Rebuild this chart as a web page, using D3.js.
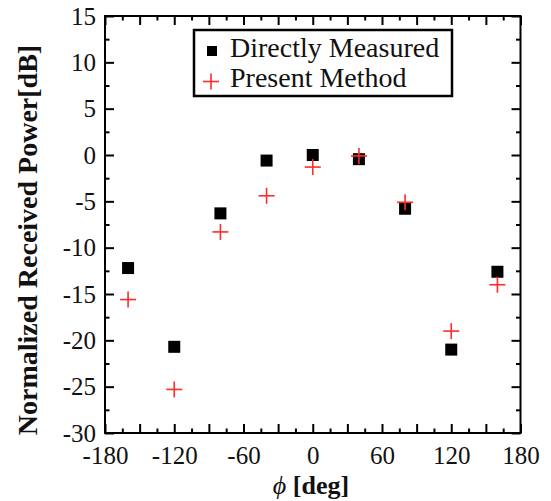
<!DOCTYPE html>
<html><head><meta charset="utf-8">
<script src="https://cdn.jsdelivr.net/npm/d3@7"></script>
<style>
html,body{margin:0;padding:0;background:#fff;}
svg{display:block;}
svg text{fill:#111;}
</style></head>
<body>
<script>
const angles = [-160, -120, -80, -40, 0, 40, 80, 120, 160];
const measured = [-12.2, -20.7, -6.3, -0.6, 0.0, -0.45, -5.8, -21.0, -12.6];
const presentMethod = [-15.6, -25.3, -8.3, -4.4, -1.3, -0.1, -5.1, -19.0, -14.0];
const xTicks = [-180, -120, -60, 0, 60, 120, 180];
const yTicks = [-30, -25, -20, -15, -10, -5, 0, 5, 10, 15];
const legendLabels = ["Directly Measured", "Present Method"];

const W = 551, H = 501;
const L = 105, R = 520.5, T = 16, B = 433;
const FONT = '"Liberation Serif","Times New Roman",Times,serif';
const svg = d3.select("body").append("svg").attr("width", W).attr("height", H);

const x = d3.scaleLinear().domain([-180, 180]).range([L, R]);
const y = d3.scaleLinear().domain([-30, 15]).range([B, T]);

const xAll = d3.range(-180, 181, 15);
const yAll = d3.range(-30, 15.01, 2.5);
const isXMajor = v => Math.abs(v % 30) < 1e-6;
const isYMajor = v => Math.abs(v % 5) < 1e-6;

function styleAxis(g, majorFn, horizontal, sign) {
  g.attr("font-family", FONT);
  g.select(".domain").remove();
  g.selectAll(".tick line")
    .attr("stroke", "#000").attr("stroke-width", 2)
    .each(function(d) {
      const len = majorFn(d) ? 9 : 4.5;
      if (horizontal) d3.select(this).attr("y2", sign * len);
      else d3.select(this).attr("x2", sign * len);
    });
}

// bottom
const gb = svg.append("g").attr("transform", `translate(0,${B})`)
  .call(d3.axisBottom(x).tickValues(xAll).tickSizeOuter(0)
    .tickFormat(d => xTicks.includes(d) ? d : ""));
styleAxis(gb, isXMajor, true, -1);
gb.selectAll(".tick text").attr("y", 13).attr("dy", "0.71em")
  .style("font-size", "25px").attr("fill", "#111");

// top
const gt = svg.append("g").attr("transform", `translate(0,${T})`)
  .call(d3.axisTop(x).tickValues(xAll).tickSizeOuter(0).tickFormat(""));
styleAxis(gt, isXMajor, true, 1);

// left
const gl = svg.append("g").attr("transform", `translate(${L},0)`)
  .call(d3.axisLeft(y).tickValues(yAll).tickSizeOuter(0)
    .tickFormat(d => yTicks.includes(d) ? d : ""));
styleAxis(gl, isYMajor, false, 1);
gl.selectAll(".tick text").attr("x", -9).attr("dy", "0.32em")
  .style("font-size", "25px").attr("fill", "#111");

// right
const gr = svg.append("g").attr("transform", `translate(${R},0)`)
  .call(d3.axisRight(y).tickValues(yAll).tickSizeOuter(0).tickFormat(""));
styleAxis(gr, isYMajor, false, -1);

// frame
svg.append("rect").attr("x", L).attr("y", T).attr("width", R - L).attr("height", B - T)
  .attr("fill", "none").attr("stroke", "#000").attr("stroke-width", 2);

// data
const sq = 12, cr = 8;
svg.append("g").selectAll("rect").data(angles).join("rect")
  .attr("x", (d, i) => x(d) - sq / 2).attr("y", (d, i) => y(measured[i]) - sq / 2)
  .attr("width", sq).attr("height", sq).attr("fill", "#000");

const pm = svg.append("g").attr("stroke", "#ff2a2a").attr("stroke-width", 1.6);
pm.selectAll("line.h").data(angles).join("line").attr("class", "h")
  .attr("x1", d => x(d) - cr).attr("x2", d => x(d) + cr)
  .attr("y1", (d, i) => y(presentMethod[i])).attr("y2", (d, i) => y(presentMethod[i]));
pm.selectAll("line.v").data(angles).join("line").attr("class", "v")
  .attr("x1", d => x(d)).attr("x2", d => x(d))
  .attr("y1", (d, i) => y(presentMethod[i]) - cr).attr("y2", (d, i) => y(presentMethod[i]) + cr);

// legend
const lg = svg.append("g").attr("font-family", FONT);
lg.append("rect").attr("x", 194).attr("y", 30).attr("width", 258).attr("height", 66)
  .attr("fill", "#fff").attr("stroke", "#000").attr("stroke-width", 2.5);
lg.append("rect").attr("x", 207).attr("y", 46).attr("width", 10).attr("height", 10).attr("fill", "#000");
lg.append("line").attr("x1", 203).attr("x2", 219).attr("y1", 81.5).attr("y2", 81.5)
  .attr("stroke", "#ff2a2a").attr("stroke-width", 1.6);
lg.append("line").attr("x1", 211).attr("x2", 211).attr("y1", 73.5).attr("y2", 89.5)
  .attr("stroke", "#ff2a2a").attr("stroke-width", 1.6);
lg.selectAll("text").data(legendLabels).join("text")
  .attr("x", 230).attr("y", (d, i) => 57 + i * 30)
  .style("font-size", "28px").text(d => d);

// axis titles
svg.append("text")
  .attr("font-family", FONT)
  .attr("transform", "translate(37,240) rotate(-90)")
  .attr("text-anchor", "middle")
  .style("font-size", "28px").style("font-weight", "bold")
  .text("Normalized Received Power[dB]");

const xt = svg.append("text").attr("font-family", FONT)
  .attr("x", 311).attr("y", 494).attr("text-anchor", "middle")
  .style("font-size", "26px");
xt.append("tspan").style("font-style", "italic").text("\u03D5");
xt.append("tspan").style("font-weight", "bold").text(" [deg]");
</script>
</body></html>
